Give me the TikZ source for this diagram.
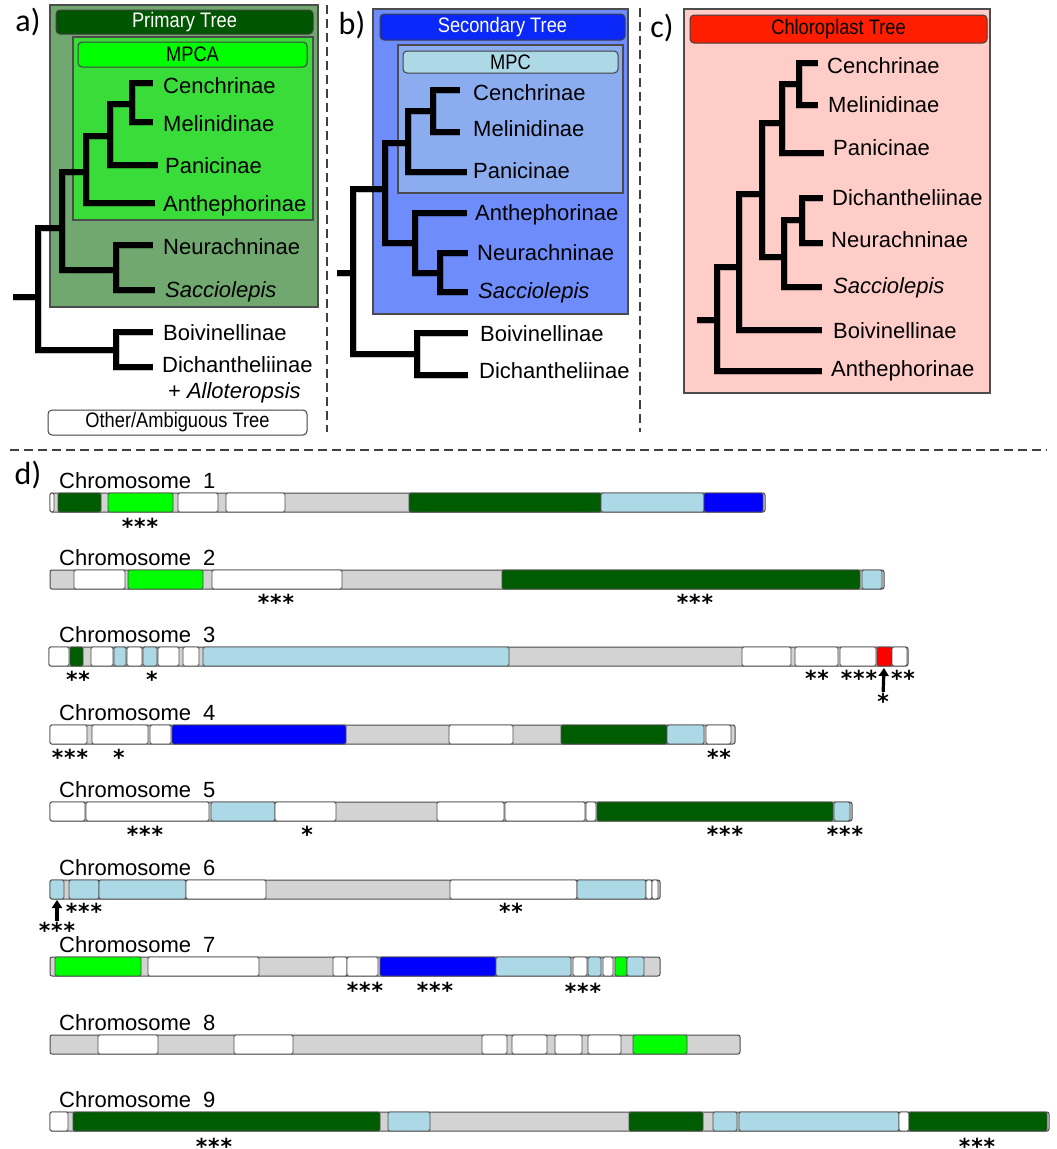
\documentclass[tikz,border=0pt]{standalone}
\usepackage{fontspec}
\setmainfont{Liberation Sans}
\newfontfamily\narrowfont{Liberation Sans}[FakeStretch=0.87]
\newfontfamily\panelfont{Carlito}
\newfontfamily\starfont{DejaVu Sans}
\usetikzlibrary{arrows.meta}
\definecolor{cApanel}{RGB}{112,168,112}
\definecolor{cAhdr}{RGB}{0,85,0}
\definecolor{cMPCAbox}{RGB}{58,220,58}
\definecolor{cMPCAhdr}{RGB}{0,255,0}
\definecolor{cBpanel}{RGB}{110,140,250}
\definecolor{cBhdr}{RGB}{10,40,250}
\definecolor{cMPCbox}{RGB}{140,172,240}
\definecolor{cMPChdr}{RGB}{173,216,230}
\definecolor{cCpanel}{RGB}{255,205,200}
\definecolor{cChdr}{RGB}{255,30,0}
\definecolor{cw}{RGB}{255,255,255}
\definecolor{cdg}{RGB}{0,92,0}
\definecolor{clg}{RGB}{0,255,0}
\definecolor{clb}{RGB}{173,216,230}
\definecolor{cbl}{RGB}{0,0,255}
\definecolor{crd}{RGB}{255,0,0}
\definecolor{cgr}{RGB}{211,211,211}
\newcommand\stbox[1]{\raisebox{-12.5pt}[5pt][5pt]{#1}}
\newcommand\stone{\stbox{*}}
\newcommand\sttwo{\stbox{*\kern0.8pt*}}
\newcommand\stthree{\stbox{*\kern0.8pt*\kern0.8pt*}}
\newcommand\chromo[4]{%
  \draw[chrbar] (#2,#1) rectangle (#3,#1+19);
  \foreach \xa/\xb/\cc in {#4}{\draw[chrseg,fill=\cc] (\xa,#1) rectangle (\xb,#1+19);}
}
\begin{document}
\begin{tikzpicture}[x=1pt,y=-1pt,
  br/.style={line width=6.5pt, line join=miter, black},
  brsh/.style={line width=7pt, line join=miter, black, opacity=0.22},
  hdr/.style={draw=black!75, line width=1pt, rounded corners=4pt, inner sep=0pt,
     font=\narrowfont\fontsize{21}{21}\selectfont},
  panelbox/.style={draw=black!70, line width=1.2pt},
  lbl/.style={anchor=base west, inner sep=0pt, yshift=-8pt, font=\fontsize{22}{26}\selectfont},
  plbl/.style={inner sep=0pt, font=\panelfont\fontsize{32}{32}\selectfont},
  chrbar/.style={fill=cgr, draw=black!70, line width=1pt, rounded corners=2pt},
  chrseg/.style={draw=black!70, line width=0.9pt, rounded corners=1.5pt},
  strs/.style={anchor=center, inner sep=0pt, font=\starfont\bfseries\fontsize{22}{22}\selectfont},
  arr/.style={-{Triangle[length=8pt,width=10pt]}, line width=3.2pt},
  sep/.style={black!75, line width=1.4pt, dash pattern=on 9pt off 5pt}
]
\useasboundingbox (0,0) rectangle (1057,1149);
\fill[white] (0,0) rectangle (1057,1149);

% ---------------- separators
\draw[sep] (327,5) -- (327,432);
\draw[sep] (640,8) -- (640,432);
\draw[sep] (10,450) -- (1047,450);

% ---------------- panel labels
\node[plbl] (la) at (28,22) {a)};
\node[plbl] (lb) at (352,25) {b)};
\node[plbl] (lc) at (662,28) {c)};
\node[plbl] (ld) at (28,475) {d)};

% ---------------- panel a boxes
\draw[panelbox, fill=cApanel] (50,5) rectangle (318,307);
\node[hdr, fill=cAhdr, text=white, minimum width=257pt, minimum height=24pt] (hPrim) at (184.5,22) {Primary Tree};
\draw[panelbox, fill=cMPCAbox] (73,37) rectangle (313,220);
\node[hdr, fill=cMPCAhdr, minimum width=229pt, minimum height=25pt] (hMPCA) at (192.5,54.5) {MPCA};
\node[hdr, fill=white, minimum width=259pt, minimum height=25pt] (hOther) at (177.5,422.5) {Other/Ambiguous Tree};

% ---------------- panel b boxes
\draw[panelbox, fill=cBpanel] (373,9) rectangle (628,314);
\node[hdr, fill=cBhdr, text=white, minimum width=245pt, minimum height=26pt] (hSec) at (502.5,27) {Secondary Tree};
\draw[panelbox, fill=cMPCbox] (398,45) rectangle (623,193);
\node[hdr, fill=cMPChdr, minimum width=215pt, minimum height=22pt] (hMPC) at (510.5,62) {MPC};

% ---------------- panel c boxes
\draw[panelbox, fill=cCpanel] (684,9) rectangle (990,393);
\node[hdr, fill=cChdr, minimum width=297pt, minimum height=28pt] (hChl) at (838.5,29) {Chloroplast Tree};

% ---------------- tree a
\coordinate (aStub) at (13,297);
\coordinate (aRoot) at (38,297);
\coordinate (aPrim) at (62,228);
\coordinate (aCMPA) at (86,172);
\coordinate (aCMP) at (110,136);
\coordinate (aCM) at (132,104);
\coordinate (aNS) at (116,270);
\coordinate (aBD) at (116,350);
\coordinate (aCen) at (153,83);
\coordinate (aMel) at (153,122);
\coordinate (aPan) at (158,165);
\coordinate (aAnt) at (155,203);
\coordinate (aNeu) at (153,245);
\coordinate (aSac) at (155,290);
\coordinate (aBoi) at (153,332);
\coordinate (aDic) at (153,367);
% ---------------- tree b
\coordinate (bStub) at (337,273);
\coordinate (bRoot) at (353,273);
\coordinate (bCore) at (385,189);
\coordinate (bCMP) at (408,143);
\coordinate (bCM) at (433,111);
\coordinate (bANS) at (415,243);
\coordinate (bNS) at (440,273);
\coordinate (bBD) at (417,354);
\coordinate (bCen) at (460,90);
\coordinate (bMel) at (460,132);
\coordinate (bPan) at (467,172);
\coordinate (bAnt) at (467,213);
\coordinate (bNeu) at (468,253);
\coordinate (bSac) at (468,292);
\coordinate (bBoi) at (468,333);
\coordinate (bDic) at (468,375);
% ---------------- tree c
\coordinate (cStub) at (697,320);
\coordinate (cRoot) at (717,320);
\coordinate (cCB) at (739,267);
\coordinate (cCore) at (762,194);
\coordinate (cCMP) at (782,123);
\coordinate (cCM) at (799,84);
\coordinate (cDNS) at (784,257);
\coordinate (cDN) at (802,220);
\coordinate (cCen) at (818,63);
\coordinate (cMel) at (818,105);
\coordinate (cPan) at (824,153);
\coordinate (cDic) at (823,198);
\coordinate (cNeu) at (823,243);
\coordinate (cSac) at (822,287);
\coordinate (cBoi) at (822,330);
\coordinate (cAnt) at (822,371);

\foreach \sty/\sh in {brsh/2,br/0}{
 \begin{scope}[shift={(\sh,\sh)}]
  \draw[\sty] (aStub) -- (aRoot);
  \draw[\sty] (aRoot) |- (aPrim);  \draw[\sty] (aRoot) |- (aBD);
  \draw[\sty] (aPrim) |- (aCMPA);  \draw[\sty] (aPrim) |- (aNS);
  \draw[\sty] (aCMPA) |- (aCMP);   \draw[\sty] (aCMPA) |- (aAnt);
  \draw[\sty] (aCMP) |- (aCM);     \draw[\sty] (aCMP) |- (aPan);
  \draw[\sty] (aCM) |- (aCen);     \draw[\sty] (aCM) |- (aMel);
  \draw[\sty] (aNS) |- (aNeu);     \draw[\sty] (aNS) |- (aSac);
  \draw[\sty] (aBD) |- (aBoi);     \draw[\sty] (aBD) |- (aDic);
  \draw[\sty] (bStub) -- (bRoot);
  \draw[\sty] (bRoot) |- (bCore);  \draw[\sty] (bRoot) |- (bBD);
  \draw[\sty] (bCore) |- (bCMP);   \draw[\sty] (bCore) |- (bANS);
  \draw[\sty] (bCMP) |- (bCM);     \draw[\sty] (bCMP) |- (bPan);
  \draw[\sty] (bCM) |- (bCen);     \draw[\sty] (bCM) |- (bMel);
  \draw[\sty] (bANS) |- (bAnt);    \draw[\sty] (bANS) |- (bNS);
  \draw[\sty] (bNS) |- (bNeu);     \draw[\sty] (bNS) |- (bSac);
  \draw[\sty] (bBD) |- (bBoi);     \draw[\sty] (bBD) |- (bDic);
  \draw[\sty] (cStub) -- (cRoot);
  \draw[\sty] (cRoot) |- (cCB);    \draw[\sty] (cRoot) |- (cAnt);
  \draw[\sty] (cCB) |- (cCore);    \draw[\sty] (cCB) |- (cBoi);
  \draw[\sty] (cCore) |- (cCMP);   \draw[\sty] (cCore) |- (cDNS);
  \draw[\sty] (cCMP) |- (cCM);     \draw[\sty] (cCMP) |- (cPan);
  \draw[\sty] (cCM) |- (cCen);     \draw[\sty] (cCM) |- (cMel);
  \draw[\sty] (cDNS) |- (cDN);     \draw[\sty] (cDNS) |- (cSac);
  \draw[\sty] (cDN) |- (cDic);     \draw[\sty] (cDN) |- (cNeu);
 \end{scope}
}

% ---------------- tree labels a
\node[lbl] (taCen) at (163,85) {Cenchrinae};
\node[lbl] (taMel) at (163,123) {Melinidinae};
\node[lbl] (taPan) at (165,165) {Panicinae};
\node[lbl] (taAnt) at (163,203) {Anthephorinae};
\node[lbl] (taNeu) at (163,246) {Neurachninae};
\node[lbl] (taSac) at (165,289) {\itshape Sacciolepis};
\node[lbl] (taBoi) at (163,332) {Boivinellinae};
\node[lbl] (taDic) at (162,364) {Dichantheliinae};
\node[anchor=base, inner sep=0pt, font=\fontsize{22}{26}\selectfont] (taAll) at ([yshift=-26pt,xshift=-3pt]taDic.base) {+ \textit{Alloteropsis}};
% ---------------- tree labels b
\node[lbl] (tbCen) at (473,92) {Cenchrinae};
\node[lbl] (tbMel) at (473,128) {Melinidinae};
\node[lbl] (tbPan) at (473,170) {Panicinae};
\node[lbl] (tbAnt) at (475,212) {Anthephorinae};
\node[lbl] (tbNeu) at (477,252) {Neurachninae};
\node[lbl] (tbSac) at (478,290) {\itshape Sacciolepis};
\node[lbl] (tbBoi) at (480,333) {Boivinellinae};
\node[lbl] (tbDic) at (479,370) {Dichantheliinae};
% ---------------- tree labels c
\node[lbl] (tcCen) at (827,65) {Cenchrinae};
\node[lbl] (tcMel) at (828,104) {Melinidinae};
\node[lbl] (tcPan) at (833,147) {Panicinae};
\node[lbl] (tcDic) at (832,197) {Dichantheliinae};
\node[lbl] (tcNeu) at (831,239) {Neurachninae};
\node[lbl] (tcSac) at (833,285) {\itshape Sacciolepis};
\node[lbl] (tcBoi) at (833,330) {Boivinellinae};
\node[lbl] (tcAnt) at (831,368) {Anthephorinae};

% ---------------- chromosomes
\node[lbl] (chr1) at (59,480.5) {Chromosome\hspace{12pt}1};
\chromo{493}{50}{765}{50/54/cw,58/101/cdg,108/173/clg,178/218/cw,226/285/cw,409/601/cdg,601/704/clb,704/763/cbl}
\node[lbl] (chr2) at (59,557.5) {Chromosome\hspace{12pt}2};
\chromo{570}{50}{884}{74/125/cw,128/203/clg,212/342/cw,502/860/cdg,862/882/clb}
\node[lbl] (chr3) at (59,634.5) {Chromosome\hspace{12pt}3};
\chromo{647}{49}{908}{49/69/cw,70/83/cdg,91/113/cw,114/126/clb,127/142/cw,143/157/clb,158/179/cw,183/199/cw,203/509/clb,742/791/cw,795/838/cw,840/876/cw,877/892/crd,892/907/cw}
\node[lbl] (chr4) at (59,712.5) {Chromosome\hspace{12pt}4};
\chromo{725}{50}{735}{50/87/cw,92/148/cw,150/171/cw,172/346/cbl,449/513/cw,561/667/cdg,667/704/clb,706/731/cw}
\node[lbl] (chr5) at (59,789.5) {Chromosome\hspace{12pt}5};
\chromo{802}{50}{852}{50/85/cw,86/209/cw,211/275/clb,275/336/cw,437/504/cw,505/585/cw,586/596/cw,597/833/cdg,834/850/clb}
\node[lbl] (chr6) at (59,867.5) {Chromosome\hspace{12pt}6};
\chromo{880}{50}{660}{50/64/clb,69/99/clb,99/186/clb,186/266/cw,450/577/cw,577/646/clb,646/652/cw,652/658/cw}
\node[lbl] (chr7) at (59,944.5) {Chromosome\hspace{12pt}7};
\chromo{957}{50}{660}{55/141/clg,148/259/cw,333/347/cw,347/378/cw,380/496/cbl,496/571/clb,573/587/cw,588/601/clb,603/613/cw,615/627/clg,627/644/clb}
\node[lbl] (chr8) at (59,1022.5) {Chromosome\hspace{12pt}8};
\chromo{1035}{50}{740}{98/158/cw,234/293/cw,482/507/cw,512/547/cw,555/582/cw,588/621/cw,633/687/clg}
\node[lbl] (chr9) at (59,1099.5) {Chromosome\hspace{12pt}9};
\chromo{1112}{50}{1049}{50/68/cw,73/380/cdg,388/430/clb,629/703/cdg,713/737/clb,739/899/clb,899/909/cw,909/1047/cdg}

% ---------------- significance stars
\node[strs] (s1a) at (140,522) {\stthree};
\node[strs] (s2a) at (276,598) {\stthree};
\node[strs] (s2b) at (695,598) {\stthree};
\node[strs] (s3a) at (78,675) {\sttwo};
\node[strs] (s3b) at (152,675) {\stone};
\node[strs] (s3c) at (817,674) {\sttwo};
\node[strs] (s3d) at (859,674) {\stthree};
\node[strs] (s3e) at (903,674) {\sttwo};
\node[strs] (s3f) at (883,697) {\stone};
\coordinate (t3f) at (884,668);
\draw[arr] (s3f) -- (t3f);
\node[strs] (s4a) at (70,753) {\stthree};
\node[strs] (s4b) at (119,753) {\stone};
\node[strs] (s4c) at (719,753) {\sttwo};
\node[strs] (s5a) at (145,830) {\stthree};
\node[strs] (s5b) at (307,830) {\stone};
\node[strs] (s5c) at (725,830) {\stthree};
\node[strs] (s5d) at (845,830) {\stthree};
\node[strs] (s6a) at (84,907) {\stthree};
\node[strs] (s6b) at (511,907) {\sttwo};
\node[strs] (s6c) at (57,926) {\stthree};
\coordinate (t6c) at (57,900);
\draw[arr] (s6c) -- (t6c);
\node[strs] (s7a) at (365,986) {\stthree};
\node[strs] (s7b) at (435,986) {\stthree};
\node[strs] (s7c) at (583,987) {\stthree};
\node[strs] (s9a) at (214,1142) {\stthree};
\node[strs] (s9b) at (977,1142) {\stthree};
\end{tikzpicture}
\end{document}
